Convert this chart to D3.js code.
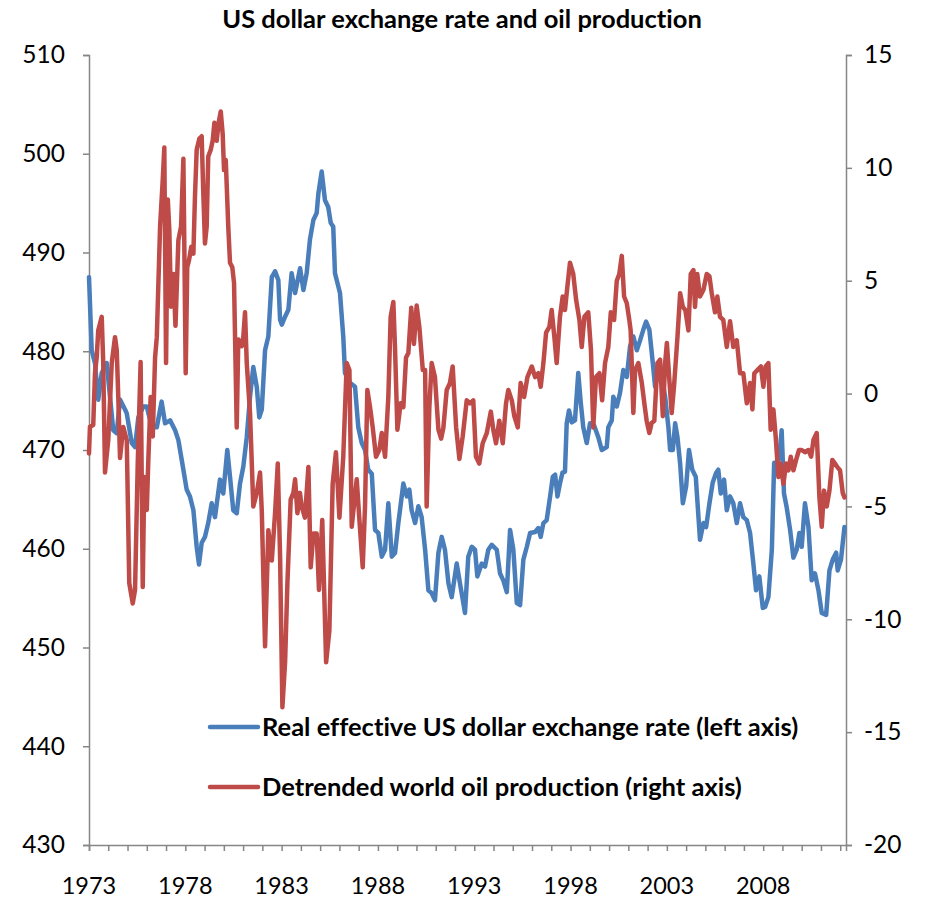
<!DOCTYPE html>
<html>
<head>
<meta charset="utf-8">
<script src="https://cdnjs.cloudflare.com/ajax/libs/d3/7.8.5/d3.min.js"></script>
<style>
    body { margin: 0; background: #fff; }
    #chart text { font-family: Lato, "Open Sans", sans-serif; fill: #000; font-variant-ligatures: none; }
</style>
</head>
<body>
<div id="chart"></div>
<script>

// real effective US dollar exchange rate, left axis [decimal year, value]
const exchangeRate = [
    [1973.00, 487.5], [1973.14, 480.1], [1973.31, 478.8], [1973.48, 475.1], [1973.66, 477.8],
    [1973.92, 478.8], [1974.09, 475.4], [1974.26, 472.0], [1974.44, 471.7], [1974.61, 475.1],
    [1974.87, 474.1], [1974.96, 473.7], [1975.22, 470.7], [1975.39, 470.3], [1975.56, 473.3],
    [1975.82, 474.4], [1976.00, 474.4], [1976.26, 472.3], [1976.52, 472.3], [1976.77, 474.9],
    [1976.95, 472.7], [1977.21, 473.0], [1977.47, 472.0], [1977.64, 471.0], [1977.90, 468.0],
    [1978.07, 466.0], [1978.24, 465.3], [1978.42, 463.9], [1978.59, 460.2], [1978.71, 458.4],
    [1978.85, 460.6], [1979.02, 461.2], [1979.19, 462.6], [1979.37, 464.6], [1979.54, 463.2],
    [1979.80, 467.0], [1979.97, 465.6], [1980.18, 470.0], [1980.32, 467.3], [1980.49, 463.9],
    [1980.67, 463.6], [1980.84, 466.6], [1981.01, 468.3], [1981.19, 471.3], [1981.36, 475.4],
    [1981.53, 478.4], [1981.71, 476.4], [1981.84, 473.3], [1981.97, 474.1], [1982.14, 480.1],
    [1982.31, 481.5], [1982.49, 487.5], [1982.66, 488.1], [1982.83, 487.2], [1982.92, 483.2],
    [1983.01, 482.7], [1983.18, 483.5], [1983.35, 484.2], [1983.52, 487.9], [1983.70, 485.9],
    [1983.96, 488.4], [1984.13, 486.2], [1984.30, 487.9], [1984.47, 491.3], [1984.65, 493.3],
    [1984.82, 494.0], [1984.91, 496.0], [1985.08, 498.2], [1985.25, 495.3], [1985.42, 494.6],
    [1985.55, 493.0], [1985.68, 492.6], [1985.77, 487.9], [1986.03, 485.9], [1986.20, 481.5],
    [1986.29, 477.8], [1986.55, 476.8], [1986.81, 476.4], [1986.98, 472.3], [1987.16, 470.7],
    [1987.33, 470.0], [1987.50, 468.0], [1987.68, 467.6], [1987.85, 461.9], [1988.02, 461.6],
    [1988.20, 459.2], [1988.37, 459.9], [1988.54, 464.6], [1988.72, 459.2], [1988.89, 459.6],
    [1989.06, 462.6], [1989.32, 466.6], [1989.50, 465.3], [1989.63, 466.0], [1989.75, 463.9],
    [1989.93, 462.6], [1990.10, 464.3], [1990.27, 463.2], [1990.45, 459.9], [1990.62, 455.8],
    [1990.79, 455.5], [1990.96, 454.8], [1991.14, 459.6], [1991.31, 461.2], [1991.48, 459.9],
    [1991.66, 456.5], [1991.83, 455.1], [1992.09, 458.5], [1992.26, 456.5], [1992.52, 453.5],
    [1992.69, 459.2], [1992.87, 460.2], [1993.04, 459.9], [1993.16, 457.2], [1993.39, 458.5],
    [1993.56, 458.2], [1993.73, 459.9], [1993.91, 460.4], [1994.17, 459.9], [1994.34, 457.5],
    [1994.51, 456.8], [1994.69, 455.6], [1994.86, 461.9], [1995.03, 459.9], [1995.21, 454.5],
    [1995.38, 454.3], [1995.55, 458.9], [1995.73, 460.2], [1995.90, 461.6], [1996.16, 461.7],
    [1996.33, 462.1], [1996.45, 461.2], [1996.59, 462.6], [1996.76, 462.9], [1996.94, 465.3],
    [1997.08, 467.3], [1997.20, 467.5], [1997.32, 465.3], [1997.46, 466.7], [1997.58, 467.7],
    [1997.71, 467.8], [1997.80, 472.7], [1997.92, 474.0], [1998.06, 472.8], [1998.23, 473.0],
    [1998.40, 477.8], [1998.53, 474.8], [1998.66, 472.3], [1998.84, 470.7], [1999.01, 472.7],
    [1999.22, 472.5], [1999.44, 471.3], [1999.62, 470.0], [1999.88, 470.3], [1999.96, 472.3],
    [2000.14, 473.0], [2000.22, 475.4], [2000.40, 474.4], [2000.57, 475.8], [2000.74, 478.1],
    [2000.92, 477.4], [2001.09, 480.5], [2001.26, 481.5], [2001.44, 480.1], [2001.61, 481.1],
    [2001.78, 482.2], [2001.92, 483.0], [2002.09, 482.2], [2002.27, 478.8], [2002.39, 476.4],
    [2002.56, 478.1], [2002.73, 477.4], [2002.91, 475.4], [2003.08, 472.3], [2003.17, 470.0],
    [2003.31, 470.0], [2003.43, 472.7], [2003.55, 471.3], [2003.69, 468.6], [2003.83, 464.6],
    [2004.00, 466.3], [2004.15, 470.0], [2004.32, 468.0], [2004.50, 467.3], [2004.72, 460.9],
    [2004.90, 462.6], [2005.04, 462.2], [2005.21, 464.6], [2005.38, 466.7], [2005.56, 467.7],
    [2005.67, 468.0], [2005.80, 465.6], [2005.97, 467.0], [2006.11, 463.9], [2006.28, 465.3],
    [2006.45, 464.6], [2006.63, 462.6], [2006.80, 464.6], [2006.97, 463.2], [2007.15, 462.9],
    [2007.32, 461.6], [2007.49, 458.5], [2007.63, 455.8], [2007.80, 457.2], [2007.98, 454.0],
    [2008.10, 454.1], [2008.27, 455.1], [2008.45, 459.9], [2008.57, 468.7], [2008.71, 468.7],
    [2008.84, 469.3], [2008.96, 472.0], [2009.08, 465.6], [2009.22, 464.2], [2009.40, 461.9],
    [2009.57, 459.1], [2009.74, 459.9], [2009.88, 461.6], [2010.00, 460.2], [2010.17, 464.6],
    [2010.35, 462.2], [2010.52, 456.8], [2010.69, 457.5], [2010.87, 455.8], [2011.04, 453.5],
    [2011.27, 453.3], [2011.44, 457.8], [2011.61, 458.9], [2011.79, 459.6], [2011.87, 457.8],
    [2012.04, 458.9], [2012.22, 462.2]
];

// detrended world oil production, right axis [decimal year, value]
const oilProduction = [
    [1973.00, -2.65], [1973.05, -1.47], [1973.22, -1.39], [1973.31, 0.9], [1973.40, 1.6],
    [1973.48, 2.8], [1973.66, 3.4], [1973.74, 1.35], [1973.83, -3.5], [1974.00, -2.06],
    [1974.18, 1.35], [1974.35, 2.5], [1974.44, 1.93], [1974.52, -0.15], [1974.61, -2.85],
    [1974.78, -1.48], [1974.96, -2.06], [1975.09, -8.4], [1975.27, -9.3], [1975.39, -8.7],
    [1975.53, -3.1], [1975.68, 1.4], [1975.79, -8.57], [1975.87, -3.7], [1976.00, -5.16],
    [1976.08, -2.94], [1976.20, -0.15], [1976.31, -1.9], [1976.43, 1.6], [1976.52, 2.5],
    [1976.69, 7.4], [1976.83, 9.5], [1976.91, 10.9], [1977.00, 1.35], [1977.09, 8.6],
    [1977.17, 7.25], [1977.26, 3.85], [1977.38, 5.3], [1977.49, 3.0], [1977.64, 6.8],
    [1977.78, 7.4], [1977.90, 10.4], [1978.02, 0.9], [1978.10, 5.6], [1978.19, 5.9],
    [1978.31, 6.5], [1978.42, 6.2], [1978.50, 8.7], [1978.59, 10.8], [1978.73, 11.3],
    [1978.85, 11.4], [1978.93, 9.0], [1979.02, 6.65], [1979.11, 7.4], [1979.19, 10.5],
    [1979.32, 10.8], [1979.42, 11.2], [1979.51, 12.0], [1979.63, 11.2], [1979.73, 12.0],
    [1979.84, 12.5], [1979.94, 11.5], [1980.01, 9.9], [1980.10, 10.35], [1980.23, 7.4],
    [1980.32, 5.8], [1980.44, 5.6], [1980.53, 4.9], [1980.67, -1.5], [1980.75, 2.4],
    [1980.93, 2.1], [1981.01, 2.5], [1981.10, 3.6], [1981.19, 1.35], [1981.36, -0.86],
    [1981.53, -5.0], [1981.71, -4.4], [1981.88, -3.5], [1981.97, -5.2], [1982.14, -11.2],
    [1982.31, -6.05], [1982.49, -7.4], [1982.66, -5.3], [1982.80, -3.1], [1982.92, -7.2],
    [1983.04, -13.9], [1983.18, -11.9], [1983.30, -8.4], [1983.47, -4.7], [1983.61, -4.4],
    [1983.70, -3.8], [1983.82, -5.3], [1983.95, -4.4], [1984.04, -5.0], [1984.21, -5.5],
    [1984.39, -3.25], [1984.51, -7.7], [1984.65, -6.2], [1984.82, -6.2], [1984.94, -8.7],
    [1985.11, -5.6], [1985.31, -11.9], [1985.48, -10.5], [1985.65, -4.0], [1985.82, -2.6],
    [1986.00, -5.5], [1986.20, -2.8], [1986.38, 1.35], [1986.52, 1.04], [1986.64, -5.9],
    [1986.76, -4.9], [1986.90, -3.8], [1987.03, -5.5], [1987.21, -7.7], [1987.33, -5.0],
    [1987.45, 0.16], [1987.59, -0.6], [1987.73, -1.5], [1987.90, -2.8], [1988.07, -2.5],
    [1988.20, -1.75], [1988.37, -2.8], [1988.54, -0.15], [1988.66, 3.4], [1988.80, 4.06],
    [1988.89, 1.93], [1989.01, -1.6], [1989.18, -0.43], [1989.32, -0.6], [1989.46, 1.6],
    [1989.58, 1.8], [1989.73, 3.8], [1989.87, 2.2], [1990.01, 3.9], [1990.15, 2.95],
    [1990.33, 1.04], [1990.45, 1.04], [1990.53, -5.0], [1990.67, -0.6], [1990.79, 1.35],
    [1990.96, 0.73], [1991.14, -1.6], [1991.28, -2.0], [1991.40, -1.5], [1991.57, 0.16],
    [1991.74, 0.47], [1991.88, 1.2], [1992.06, -1.5], [1992.23, -2.9], [1992.40, -1.9],
    [1992.61, -0.3], [1992.78, -0.43], [1992.95, -0.3], [1993.09, -2.8], [1993.26, -3.1],
    [1993.44, -2.2], [1993.65, -1.75], [1993.86, -0.8], [1993.99, -1.6], [1994.13, -2.2],
    [1994.30, -1.2], [1994.48, -2.2], [1994.65, -0.43], [1994.77, 0.16], [1994.95, -0.3],
    [1995.08, -1.0], [1995.26, -1.5], [1995.41, 0.47], [1995.59, -0.15], [1995.76, 0.73],
    [1995.99, 1.2], [1996.16, 0.73], [1996.33, 0.9], [1996.45, 0.3], [1996.59, 1.35],
    [1996.73, 2.7], [1996.90, 2.95], [1997.02, 3.7], [1997.16, 2.5], [1997.28, 1.35],
    [1997.45, 3.4], [1997.59, 4.3], [1997.71, 3.7], [1997.83, 4.7], [1997.97, 5.8],
    [1998.14, 5.3], [1998.29, 4.15], [1998.46, 3.26], [1998.58, 2.06], [1998.72, 3.4],
    [1998.92, 3.6], [1999.06, 1.93], [1999.18, -1.5], [1999.32, 0.73], [1999.50, 0.9],
    [1999.64, -0.3], [1999.79, 1.35], [1999.96, 2.06], [2000.09, 3.6], [2000.26, 3.26],
    [2000.40, 5.0], [2000.53, 5.3], [2000.66, 6.1], [2000.78, 4.3], [2000.92, 4.0],
    [2001.05, 3.26], [2001.12, 2.8], [2001.26, -0.86], [2001.35, 1.04], [2001.52, 1.35],
    [2001.70, 0.47], [2001.83, -0.43], [2001.95, -1.2], [2002.09, -1.75], [2002.21, -1.3],
    [2002.35, -1.2], [2002.51, 1.35], [2002.65, 1.5], [2002.79, -1.0], [2002.91, 1.35],
    [2003.00, 2.24], [2003.13, 0.6], [2003.25, -0.86], [2003.37, 0.3], [2003.55, 2.5],
    [2003.69, 4.45], [2003.83, 3.84], [2003.96, 3.7], [2004.12, 2.8], [2004.24, 5.3],
    [2004.38, 5.47], [2004.46, 3.84], [2004.58, 5.3], [2004.72, 4.3], [2004.90, 4.6],
    [2005.07, 5.3], [2005.21, 5.2], [2005.33, 4.45], [2005.50, 3.6], [2005.62, 4.3],
    [2005.76, 3.4], [2005.93, 3.26], [2006.11, 2.06], [2006.28, 3.2], [2006.45, 2.06],
    [2006.63, 2.36], [2006.80, 0.9], [2006.97, 0.9], [2007.15, -0.43], [2007.32, 0.47],
    [2007.44, -0.7], [2007.54, 0.9], [2007.70, 1.04], [2007.88, 1.2], [2008.01, 0.3],
    [2008.13, 1.2], [2008.27, 1.35], [2008.39, -1.6], [2008.53, -0.7], [2008.65, -1.9],
    [2008.79, -3.7], [2008.91, -3.1], [2009.05, -4.0], [2009.19, -3.1], [2009.31, -3.4],
    [2009.43, -2.8], [2009.57, -3.4], [2009.71, -2.94], [2009.86, -2.5], [2010.00, -2.5],
    [2010.17, -2.6], [2010.35, -2.5], [2010.49, -2.8], [2010.61, -2.06], [2010.78, -1.75],
    [2010.92, -4.6], [2011.04, -5.9], [2011.16, -4.3], [2011.30, -5.0], [2011.44, -4.3],
    [2011.59, -2.94], [2011.73, -3.1], [2011.85, -3.26], [2011.99, -3.4], [2012.13, -4.4],
    [2012.22, -4.6]
];

const leftTicks = [430, 440, 450, 460, 470, 480, 490, 500, 510];
const rightTicks = [-20, -15, -10, -5, 0, 5, 10, 15];
const yearTicks = d3.range(1973, 2013);
const yearLabels = [1973, 1978, 1983, 1988, 1993, 1998, 2003, 2008];

const titleText = "US dollar exchange rate and oil production";
const seriesNames = [
    "Real effective US dollar exchange rate (left axis)",
    "Detrended world oil production (right axis)"
];
const seriesColors = ["#4A7EBB", "#BE4B48"];

// layout
const width = 926, height = 898;
const margin = {top: 55, right: 80, bottom: 53, left: 89};
const innerW = width - margin.left - margin.right;
const innerH = height - margin.top - margin.bottom;
const axisColor = "#868686";

const svg = d3.select("#chart").append("svg")
    .attr("width", width)
    .attr("height", height);

svg.append("text")
    .attr("x", 462)
    .attr("y", 28)
    .attr("text-anchor", "middle")
    .attr("font-size", "25.5px")
    .attr("font-weight", "bold")
    .text(titleText);

const g = svg.append("g")
    .attr("transform", `translate(${margin.left}, ${margin.top})`);

// scales
const x = d3.scaleLinear().domain([1973, 2012.3]).range([0, innerW]);
const yLeft = d3.scaleLinear().domain([430, 510]).range([innerH, 0]);
const yRight = d3.scaleLinear().domain([-20, 15]).range([innerH, 0]);

// axes
const xAxis = d3.axisBottom(x)
    .tickValues(yearTicks)
    .tickSize(6)
    .tickFormat("");

const leftAxis = d3.axisLeft(yLeft)
    .tickValues(leftTicks)
    .tickSize(6)
    .tickPadding(18)
    .tickFormat(d => String(d));

const rightAxis = d3.axisRight(yRight)
    .tickValues(rightTicks)
    .tickSize(6)
    .tickPadding(12)
    .tickFormat(d => String(d));

const xAxisGroup = g.append("g")
    .attr("class", "x-axis")
    .attr("transform", `translate(0, ${innerH})`)
    .call(xAxis);

const leftGroup = g.append("g")
    .attr("class", "y-axis")
    .call(leftAxis);

const rightGroup = g.append("g")
    .attr("class", "y-axis")
    .attr("transform", `translate(${innerW}, 0)`)
    .call(rightAxis);

[xAxisGroup, leftGroup, rightGroup].forEach(ax => {
    ax.select(".domain").attr("stroke", axisColor).attr("stroke-width", 1.5);
    ax.selectAll(".tick line").attr("stroke", axisColor).attr("stroke-width", 1.5);
    ax.selectAll(".tick text")
        .attr("font-size", "24.5px")
        .attr("font-family", "Lato, 'Open Sans', sans-serif")
        .attr("fill", "#000");
});

// year labels every five years
g.append("g")
    .selectAll("text")
    .data(yearLabels)
    .join("text")
    .attr("x", d => x(d))
    .attr("y", innerH + 49)
    .attr("text-anchor", "middle")
    .attr("font-size", "23.5px")
    .text(d => d);

// lines
const lineLeft = d3.line()
    .x(d => x(d[0]))
    .y(d => yLeft(d[1]));

const lineRight = d3.line()
    .x(d => x(d[0]))
    .y(d => yRight(d[1]));

g.append("path")
    .datum(exchangeRate)
    .attr("fill", "none")
    .attr("stroke", seriesColors[0])
    .attr("stroke-width", 4.5)
    .attr("stroke-linejoin", "round")
    .attr("stroke-linecap", "round")
    .attr("d", lineLeft);

g.append("path")
    .datum(oilProduction)
    .attr("fill", "none")
    .attr("stroke", seriesColors[1])
    .attr("stroke-width", 4.5)
    .attr("stroke-linejoin", "round")
    .attr("stroke-linecap", "round")
    .attr("d", lineRight);

// legend
const legend = svg.append("g")
    .attr("transform", "translate(210, 727)");

const legendItems = legend.selectAll("g")
    .data(seriesNames)
    .join("g")
    .attr("transform", (d, i) => `translate(0, ${i * 60})`);

legendItems.append("line")
    .attr("x1", 0)
    .attr("x2", 48)
    .attr("stroke", (d, i) => seriesColors[i])
    .attr("stroke-width", 4.5)
    .attr("stroke-linecap", "round");

legendItems.append("text")
    .attr("x", 52)
    .attr("y", 9)
    .attr("font-size", "25.5px")
    .attr("font-weight", "bold")
    .text(d => d);

</script>
</body>
</html>
